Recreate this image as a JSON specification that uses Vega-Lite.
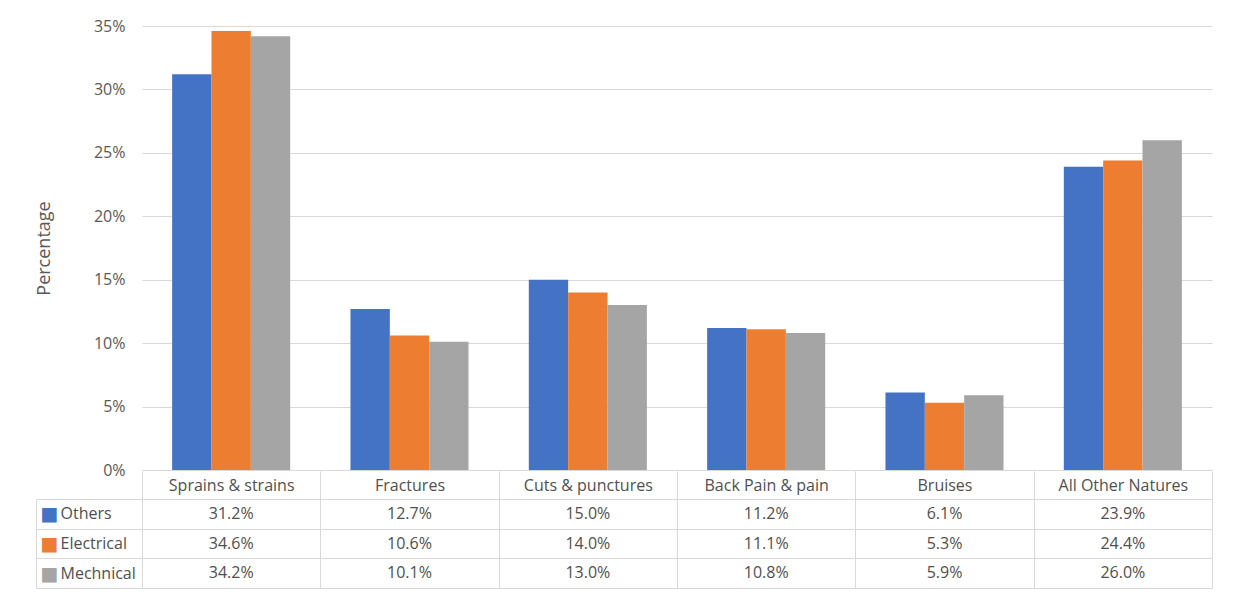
{
  "$schema": "https://vega.github.io/schema/vega-lite/v6.json",
  "padding": {"left": 35, "top": 18, "right": 20, "bottom": 5},
  "background": "white",
  "config": {
    "font": "Open Sans",
    "view": {"stroke": null},
    "axis": {"labelFont": "Open Sans", "titleFont": "Open Sans", "labelColor": "#595959", "titleColor": "#595959", "labelFontSize": 16, "gridColor": "#d9d9d9", "domainColor": "#d9d9d9", "tickColor": "#d9d9d9"}
  },
  "datasets": {
    "d": [
      {"category": "Sprains & strains", "series": "Others", "value": 0.312},
      {"category": "Sprains & strains", "series": "Electrical", "value": 0.346},
      {"category": "Sprains & strains", "series": "Mechnical", "value": 0.342},
      {"category": "Fractures", "series": "Others", "value": 0.127},
      {"category": "Fractures", "series": "Electrical", "value": 0.106},
      {"category": "Fractures", "series": "Mechnical", "value": 0.101},
      {"category": "Cuts & punctures", "series": "Others", "value": 0.150},
      {"category": "Cuts & punctures", "series": "Electrical", "value": 0.140},
      {"category": "Cuts & punctures", "series": "Mechnical", "value": 0.130},
      {"category": "Back Pain & pain", "series": "Others", "value": 0.112},
      {"category": "Back Pain & pain", "series": "Electrical", "value": 0.111},
      {"category": "Back Pain & pain", "series": "Mechnical", "value": 0.108},
      {"category": "Bruises", "series": "Others", "value": 0.061},
      {"category": "Bruises", "series": "Electrical", "value": 0.053},
      {"category": "Bruises", "series": "Mechnical", "value": 0.059},
      {"category": "All Other Natures", "series": "Others", "value": 0.239},
      {"category": "All Other Natures", "series": "Electrical", "value": 0.244},
      {"category": "All Other Natures", "series": "Mechnical", "value": 0.260}
    ]
  },
  "vconcat": [
    {
      "width": 1070,
      "height": 444,
      "data": {"name": "d"},
      "mark": {"type": "bar"},
      "encoding": {
        "x": {"field": "category", "type": "nominal", "sort": null,
              "scale": {"paddingInner": 0.338, "paddingOuter": 0.169},
              "axis": {"title": null, "labels": false, "ticks": false, "domain": true, "grid": false}},
        "xOffset": {"field": "series", "type": "nominal", "sort": ["Others", "Electrical", "Mechnical"], "scale": {"paddingInner": 0, "paddingOuter": 0}},
        "y": {"field": "value", "type": "quantitative",
              "scale": {"domain": [0, 0.35], "nice": false},
              "axis": {"title": "Percentage", "titleFontSize": 18, "titleFontWeight": "normal", "titlePadding": 40,
                       "values": [0, 0.05, 0.1, 0.15, 0.2, 0.25, 0.3, 0.35], "format": ".0%",
                       "domain": false, "ticks": false, "labelPadding": 17, "grid": true}},
        "color": {"field": "series", "type": "nominal", "sort": ["Others", "Electrical", "Mechnical"],
                  "scale": {"domain": ["Others", "Electrical", "Mechnical"], "range": ["#4472C4", "#ED7D31", "#A5A5A5"]},
                  "legend": null}
      }
    },
    {
      "width": 1070,
      "height": 89,
      "data": {"name": "d"},
      "layer": [
        {
          "mark": {"type": "text", "fontSize": 16, "color": "#505050", "baseline": "middle"},
          "encoding": {
            "x": {"field": "category", "type": "nominal", "sort": null,
                  "scale": {"paddingInner": 0, "paddingOuter": 0},
                  "axis": {"orient": "top", "title": null, "tickBand": "extent", "tickSize": 28, "labelBaseline": "middle",
                           "labelPadding": -14.5, "labelAngle": 0, "labelOverlap": false, "domain": true, "grid": true, "labelColor": "#505050"}},
            "y": {"field": "series", "type": "nominal", "sort": ["Others", "Electrical", "Mechnical"],
                  "scale": {"domain": ["Others", "Electrical", "Mechnical"], "paddingInner": 0, "paddingOuter": 0},
                  "axis": {"orient": "left", "title": null, "tickBand": "extent", "tickSize": 106, "labelAlign": "left",
                           "labelBaseline": "middle", "labelPadding": -24, "domain": true, "grid": true, "labelColor": "#505050"}},
            "text": {"field": "value", "type": "quantitative", "format": ".1%"}
          }
        },
        {
          "mark": {"type": "text", "text": ""},
          "encoding": {
            "x": {"field": "category", "type": "nominal", "sort": null,
                  "scale": {"paddingInner": 0, "paddingOuter": 0}},
            "y": {"field": "series", "type": "nominal",
                  "scale": {"domain": ["Others", "Electrical", "Mechnical"], "paddingInner": 0, "paddingOuter": 0},
                  "axis": {"orient": "left", "title": null, "offset": 106, "ticks": false, "grid": false, "domain": true,
                           "labelExpr": "'■'", "labelFont": "DejaVu Sans", "labelFontSize": 19, "labelAlign": "left", "labelBaseline": "middle",
                           "labelPadding": -4,
                           "labelColor": {"condition": [{"test": "datum.value === 'Others'", "value": "#4472C4"}, {"test": "datum.value === 'Electrical'", "value": "#ED7D31"}], "value": "#A5A5A5"}}}
          }
        }
      ],
      "resolve": {"scale": {"y": "independent"}, "axis": {"y": "independent"}}
    }
  ],
  "bounds": "flush",
  "spacing": 29
}
